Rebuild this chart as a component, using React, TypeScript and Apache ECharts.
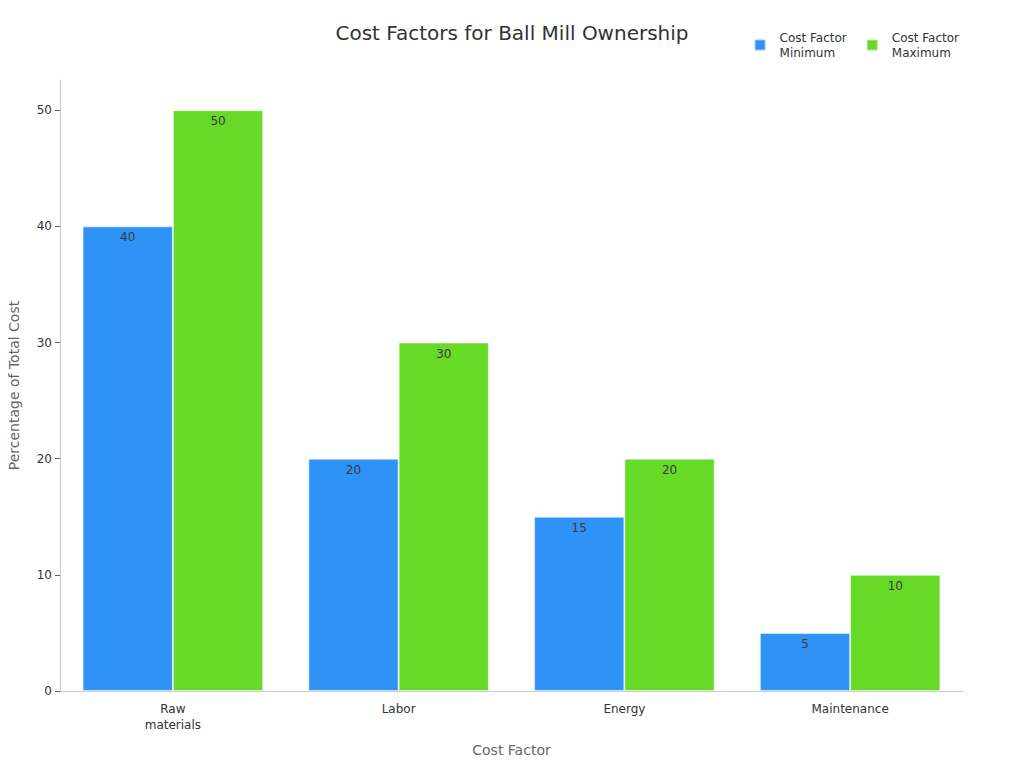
import React, { useEffect, useRef } from 'react';
import * as echarts from 'echarts';

const categories = ['Raw\nmaterials', 'Labor', 'Energy', 'Maintenance'];
const minValues = [40, 20, 15, 5];
const maxValues = [50, 30, 20, 10];
const yTicks = [0, 10, 20, 30, 40, 50];

const FONT = '"DejaVu Sans", sans-serif';

const App: React.FC = () => {
  const chartRef = useRef<HTMLDivElement>(null);

  useEffect(() => {
    if (!chartRef.current) return;
    const chart = echarts.init(chartRef.current, undefined, { renderer: 'svg' });

    const barLabel = {
      show: true,
      position: 'insideTop' as const,
      color: '#3a3a3a',
      fontSize: 12,
      fontFamily: FONT,
    };

    const option: echarts.EChartsOption = {
      animation: false,
      textStyle: { fontFamily: FONT },
      title: {
        text: 'Cost Factors for Ball Mill Ownership',
        left: 'center',
        top: 18,
        textStyle: { fontSize: 20, fontWeight: 'normal', color: '#333', fontFamily: FONT },
      },
      legend: {
        top: 25,
        right: 60,
        icon: 'rect',
        itemWidth: 11,
        itemHeight: 11,
        itemGap: 19,
        textStyle: { fontSize: 12, color: '#333', fontFamily: FONT, lineHeight: 15, padding: [0, 0, 0, 9] },
        data: ['Cost Factor\nMinimum', 'Cost Factor\nMaximum'],
      },
      grid: { left: 60, right: 61, top: 80, bottom: 77, outerBoundsMode: 'none' } as any,
      xAxis: {
        type: 'category',
        data: categories,
        name: 'Cost Factor',
        nameLocation: 'middle',
        nameGap: 52,
        nameTextStyle: { fontSize: 14, color: '#666', fontFamily: FONT },
        axisLine: { lineStyle: { color: '#ccc' } },
        axisTick: { alignWithLabel: true, length: 5, lineStyle: { color: '#999' } },
        axisLabel: { fontSize: 12, color: '#333', fontFamily: FONT, margin: 10, lineHeight: 16 },
      },
      yAxis: {
        type: 'value',
        min: 0,
        max: 52.6,
        interval: 10,
        name: 'Percentage of Total Cost',
        nameLocation: 'middle',
        nameGap: 39,
        nameTextStyle: { fontSize: 14, color: '#666', fontFamily: FONT },
        splitLine: { show: false },
        axisLine: { show: true, lineStyle: { color: '#ccc' } },
        axisTick: { show: true, length: 5, lineStyle: { color: '#666' }, customValues: yTicks },
        axisLabel: { fontSize: 12, color: '#333', fontFamily: FONT, margin: 8, customValues: yTicks },
      },
      series: [
        {
          name: 'Cost Factor\nMinimum',
          type: 'bar',
          data: minValues,
          barGap: '0%',
          barCategoryGap: '20%',
          itemStyle: { color: '#2f92f7', borderColor: 'rgba(255,255,255,0.5)', borderWidth: 1 },
          label: barLabel,
        },
        {
          name: 'Cost Factor\nMaximum',
          type: 'bar',
          data: maxValues,
          itemStyle: { color: '#66da26', borderColor: 'rgba(255,255,255,0.5)', borderWidth: 1 },
          label: barLabel,
        },
      ],
    };

    chart.setOption(option);

    const handleResize = () => chart.resize();
    window.addEventListener('resize', handleResize);
    return () => {
      window.removeEventListener('resize', handleResize);
      chart.dispose();
    };
  }, []);

  return <div ref={chartRef} style={{ width: 1024, height: 768, margin: -8 }} />;
};

export default App;
